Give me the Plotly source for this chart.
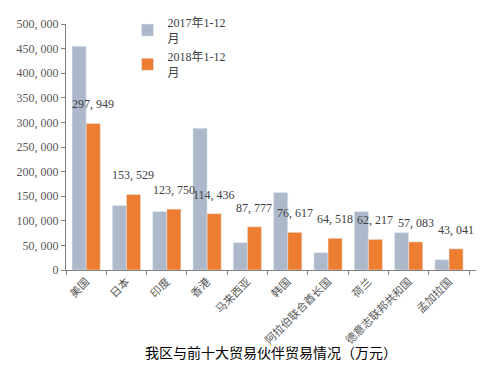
import plotly.graph_objects as go

categories = ["美国", "日本", "印度", "香港", "马来西亚", "韩国", "阿拉伯联合酋长国", "荷兰", "德意志联邦共和国", "孟加拉国"]
values_2017 = [455000, 131000, 118800, 288000, 55600, 157600, 35300, 118800, 76000, 21000]
values_2018 = [297949, 153529, 123750, 114436, 87777, 76617, 64518, 62217, 57083, 43041]
series_names = ["2017年1-12<br>月", "2018年1-12<br>月"]
tick_vals = [0, 50000, 100000, 150000, 200000, 250000, 300000, 350000, 400000, 450000, 500000]
tick_text = ["0", "50, 000", "100, 000", "150, 000", "200, 000", "250, 000", "300, 000", "350, 000", "400, 000", "450, 000", "500, 000"]
title_text = "我区与前十大贸易伙伴贸易情况（万元）"

serif = "'Liberation Serif', 'DejaVu Serif', 'Noto Sans CJK SC', serif"
cjk = "'Noto Sans CJK SC', sans-serif"

fig = go.Figure()
fig.add_trace(go.Bar(x=categories, y=values_2017, name=series_names[0], marker_color="#ADB9CA"))
fig.add_trace(go.Bar(x=categories, y=values_2018, name=series_names[1], marker_color="#ED7D31"))

for c, v in zip(categories, values_2018):
    fig.add_annotation(x=c, y=v, text="{:,}".format(v).replace(",", ", "), showarrow=False,
                       xshift=7, yshift=10, yanchor="bottom",
                       font=dict(family=serif, size=12, color="#404040"))

fig.add_annotation(x=0.5, y=-0.333, xref="paper", yref="paper", xshift=0, text=title_text,
                   showarrow=False, yanchor="middle", font=dict(family=cjk, size=14, color="#000000"))

fig.update_layout(
    width=496, height=370,
    margin=dict(l=58, r=28, t=16, b=108, autoexpand=False),
    plot_bgcolor="white", paper_bgcolor="white",
    barmode="group", bargap=0.3, bargroupgap=0,
    showlegend=True,
    legend=dict(x=0.15, y=1.065, xanchor="left", yanchor="top", bgcolor="rgba(0,0,0,0)",
                font=dict(family=serif, size=12, color="#404040"),
                tracegroupgap=0, itemwidth=30),
    xaxis=dict(showline=True, linecolor="#808080", linewidth=1, ticks="outside", tickson="boundaries",
               ticklen=4, tickcolor="#808080", tickangle=-45, automargin=False,
               tickfont=dict(family=cjk, size=11, color="#595959")),
    yaxis=dict(range=[0, 500000], tickvals=tick_vals, ticktext=tick_text, showline=True,
               linecolor="#808080", linewidth=1, ticks="outside", ticklen=4, tickcolor="#808080",
               showgrid=False, zeroline=False, automargin=False,
               tickfont=dict(family=serif, size=12, color="#595959")),
)

fig.write_html("out.html")
